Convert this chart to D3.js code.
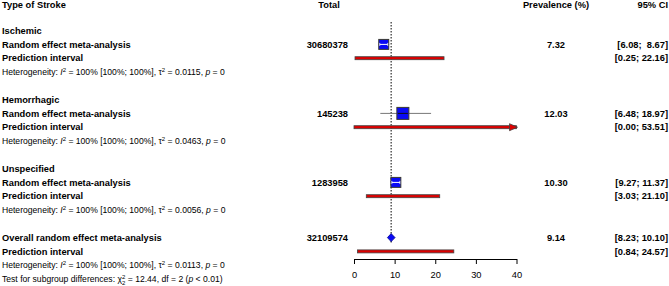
<!DOCTYPE html>
<html>
<head>
<meta charset="utf-8">
<script src="https://cdn.jsdelivr.net/npm/d3@7"></script>
<style>
  html, body { margin: 0; padding: 0; background: #fff; }
  svg text { font-family: "Liberation Sans", Arial, sans-serif; white-space: pre; }
</style>
</head>
<body>
<svg id="chart" width="669" height="286"></svg>
<script>
// ---- data ----
const groups = ["Ischemic", "Hemorrhagic", "Unspecified"];
const totals = [30680378, 145238, 1283958];
const estimates = [7.32, 12.03, 10.30];
const ciLow = [6.08, 6.48, 9.27];
const ciHigh = [8.67, 18.97, 11.37];
const piLow = [0.25, 0.00, 3.03];
const piHigh = [22.16, 53.51, 21.10];
const tau2 = ["0.0115", "0.0463", "0.0056"];
const relWeights = [0.83, 1.0, 0.83];

const overallTotal = 32109574;
const overallEst = 9.14;
const overallCI = [8.23, 10.10];
const overallPI = [0.84, 24.57];
const overallTau2 = "0.0113";
const testChi2 = "12.44";
const testDf = 2;
const testP = "< 0.01";

const axisTicks = [0, 10, 20, 30, 40];
const headers = ["Type of Stroke", "Total", "Prevalence (%)", "95% CI"];

// ---- layout ----
const svg = d3.select("#chart");
const x = d3.scaleLinear().domain([0, 40]).range([354, 516.5]);
const rowY = i => (i === 0 ? 5 : 3 + 13.8 * i);   // row center
const boldSize = 9.3, regSize = 8.6;
const colTotal = 348, colPrev = 556, colCI = 668;
const sqScale = d3.scaleLinear().domain([0, 1]).range([0, 12]);

function fmt2(v) { return v.toFixed(2); }
function ciText(lo, hi) {
  const a = fmt2(lo), b = fmt2(hi);
  return "[" + a + ";" + (b.length < 5 ? "  " : " ") + b + "]";
}

function boldText(txt, xx, i, anchor) {
  return svg.append("text").attr("x", xx).attr("y", rowY(i)).attr("dy", "0.35em")
    .attr("text-anchor", anchor || "start").attr("font-size", boldSize)
    .attr("font-weight", "bold").attr("fill", "#000").text(txt);
}

function hetText(i, tau) {
  const t = svg.append("text").attr("x", 2).attr("y", rowY(i)).attr("dy", "0.35em")
    .attr("font-size", regSize).attr("fill", "#000");
  t.append("tspan").text("Heterogeneity: ");
  t.append("tspan").attr("font-style", "italic").text("I");
  t.append("tspan").attr("font-size", 6).attr("dy", -3.5).text("2");
  t.append("tspan").attr("dy", 3.5).text(" = 100% [100%; 100%], \u03c4");
  t.append("tspan").attr("font-size", 6).attr("dy", -3.5).text("2");
  t.append("tspan").attr("dy", 3.5).text(" = " + tau + ", ");
  t.append("tspan").attr("font-style", "italic").text("p");
  t.append("tspan").text(" = 0");
}

// headers
boldText(headers[0], 2, 0);
boldText(headers[1], 329, 0, "middle");
boldText(headers[2], colPrev, 0, "middle");
boldText(headers[3], colCI, 0, "end");

// reference (dotted) line at overall estimate
svg.append("line")
  .attr("x1", x(overallEst)).attr("x2", x(overallEst))
  .attr("y1", 22).attr("y2", rowY(17) + 5)
  .attr("stroke", "#000").attr("stroke-width", 1).attr("stroke-dasharray", "1.5,1.5");

function predBar(i, lo, hi) {
  const y = rowY(i);
  const hiC = Math.min(hi, 40);
  svg.append("rect").attr("x", x(lo)).attr("y", y - 1.5)
    .attr("width", x(hiC) - x(lo)).attr("height", 3)
    .attr("fill", "#dd0000").attr("stroke", "#444").attr("stroke-width", 0.8);
  if (hi > 40) {
    const xe = x(40);
    svg.append("path")
      .attr("d", `M${xe - 7},${y - 3.5} L${xe + 1},${y} L${xe - 7},${y + 3.5} Z`)
      .attr("fill", "#dd0000").attr("stroke", "#444").attr("stroke-width", 0.8);
  }
}

groups.forEach((g, k) => {
  const base = 2 + k * 5;
  boldText(g, 2, base);
  boldText("Random effect meta-analysis", 2, base + 1);
  boldText("Prediction interval", 2, base + 2);
  hetText(base + 3, tau2[k]);

  boldText(String(totals[k]), colTotal, base + 1, "end");
  boldText(fmt2(estimates[k]), colPrev, base + 1, "middle");
  boldText(ciText(ciLow[k], ciHigh[k]), colCI, base + 1, "end");
  boldText(ciText(piLow[k], piHigh[k]), colCI, base + 2, "end");

  const y = rowY(base + 1);
  const s = sqScale(relWeights[k]);
  const cx = x(estimates[k]);
  svg.append("line").attr("x1", x(ciLow[k])).attr("x2", x(ciHigh[k]))
    .attr("y1", y).attr("y2", y).attr("stroke", "#777").attr("stroke-width", 1);
  svg.append("rect").attr("x", cx - s / 2).attr("y", y - s / 2)
    .attr("width", s).attr("height", s)
    .attr("fill", "#0a0af5").attr("stroke", "#3a3a30").attr("stroke-width", 1);
  const inside = x(ciLow[k]) >= cx - s / 2 - 1.5 && x(ciHigh[k]) <= cx + s / 2 + 1.5;
  const lx1 = Math.max(x(ciLow[k]), cx - s / 2 + 1), lx2 = Math.min(x(ciHigh[k]), cx + s / 2 - 1);
  svg.append("line").attr("x1", lx1).attr("x2", lx2).attr("y1", y).attr("y2", y)
    .attr("stroke", inside ? "#fff" : "#111").attr("stroke-width", 1);
  if (inside) {
    [lx1, lx2].forEach(xx => svg.append("line").attr("x1", xx).attr("x2", xx)
      .attr("y1", y - 1.5).attr("y2", y + 1.5).attr("stroke", "#fff").attr("stroke-width", 0.8));
  }
  predBar(base + 2, piLow[k], piHigh[k]);
});

// overall
boldText("Overall random effect meta-analysis", 2, 17);
boldText("Prediction interval", 2, 18);
hetText(19, overallTau2);
{
  const t = svg.append("text").attr("x", 2).attr("y", rowY(20)).attr("dy", "0.35em")
    .attr("font-size", regSize).attr("fill", "#000");
  t.append("tspan").text("Test for subgroup differences: \u03c7");
  t.append("tspan").attr("font-size", 6).attr("dy", -3.5).text("2");
  t.append("tspan").attr("font-size", 6).attr("dx", -3.3).attr("dy", 6.5).text(String(testDf));
  t.append("tspan").attr("dy", -3).text(" = " + testChi2 + ", df = " + testDf + " (");
  t.append("tspan").attr("font-style", "italic").text("p");
  t.append("tspan").text(" " + testP + ")");
}
boldText(String(overallTotal), colTotal, 17, "end");
boldText(fmt2(overallEst), colPrev, 17, "middle");
boldText(ciText(overallCI[0], overallCI[1]), colCI, 17, "end");
boldText(ciText(overallPI[0], overallPI[1]), colCI, 18, "end");
{
  const y = rowY(17);
  svg.append("path")
    .attr("d", `M${x(overallCI[0])},${y} L${x(overallEst)},${y - 4} L${x(overallCI[1])},${y} L${x(overallEst)},${y + 4} Z`)
    .attr("fill", "#0a0af5").attr("stroke", "#00008b").attr("stroke-width", 0.8);
}
predBar(18, overallPI[0], overallPI[1]);

// axis
const axis = d3.axisBottom(x).tickValues(axisTicks).tickFormat(d3.format("d"))
  .tickSize(5).tickSizeOuter(0).tickPadding(7);
const ag = svg.append("g").attr("transform", "translate(0,259)").call(axis);
ag.selectAll("text").attr("font-size", 9.3).attr("font-family", "Liberation Sans, Arial, sans-serif").attr("fill", "#000");
ag.selectAll("line,path").attr("stroke", "#000");
</script>
</body>
</html>
